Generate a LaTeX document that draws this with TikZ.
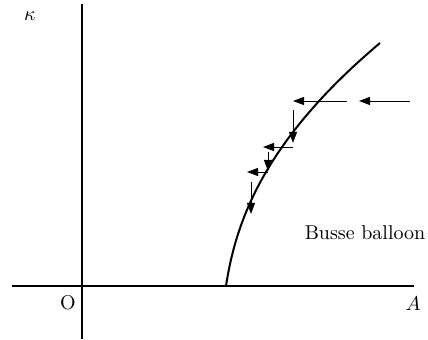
\documentclass[tikz,border=0pt]{standalone}
\usetikzlibrary{arrows.meta}
\begin{document}
\begin{tikzpicture}[x=0.5pt,y=-0.5pt,
  axis/.style={line width=0.75pt},
  curve/.style={line width=1pt},
  arr/.style={line width=0.45pt,-{Triangle[length=5.5pt,width=4pt]}},
  lbl/.style={inner sep=0pt,font=\normalsize}]
\useasboundingbox (0,0) rectangle (428,340);
% axes
\coordinate (yb) at (82,339);
\coordinate (yt) at (82,4);
\coordinate (xl) at (12,286);
\coordinate (xr) at (414,286);
\draw[axis] (yb) -- (yt);
\draw[axis] (xl) -- (xr);
% labels
\node[lbl] (kappa) at (30,16) {$\kappa$};
\node[lbl] (O) at (68,303) {O};
\node[lbl] (A) at (413,304) {$A$};
\node[lbl] (busse) at (365,233) {Busse balloon};
% curve
\coordinate (c0) at (226,286);
\coordinate (c1) at (380,43);
\draw[curve] (c0) .. controls (236,220) and (265,140) .. (c1);
% arrows
\coordinate (a1s) at (410,101); \coordinate (a1e) at (359,101);
\coordinate (a2s) at (347,101); \coordinate (a2e) at (293,101);
\coordinate (a3s) at (293,110); \coordinate (a3e) at (293,143);
\coordinate (a4s) at (293,147); \coordinate (a4e) at (263,147);
\coordinate (a5s) at (268,152); \coordinate (a5e) at (268,171);
\coordinate (a6s) at (268,172); \coordinate (a6e) at (247,172);
\coordinate (a7s) at (251,182); \coordinate (a7e) at (251,214);
\draw[arr] (a1s) -- (a1e);
\draw[arr] (a2s) -- (a2e);
\draw[arr] (a3s) -- (a3e);
\draw[arr] (a4s) -- (a4e);
\draw[arr] (a5s) -- (a5e);
\draw[arr] (a6s) -- (a6e);
\draw[arr] (a7s) -- (a7e);
\end{tikzpicture}
\end{document}
